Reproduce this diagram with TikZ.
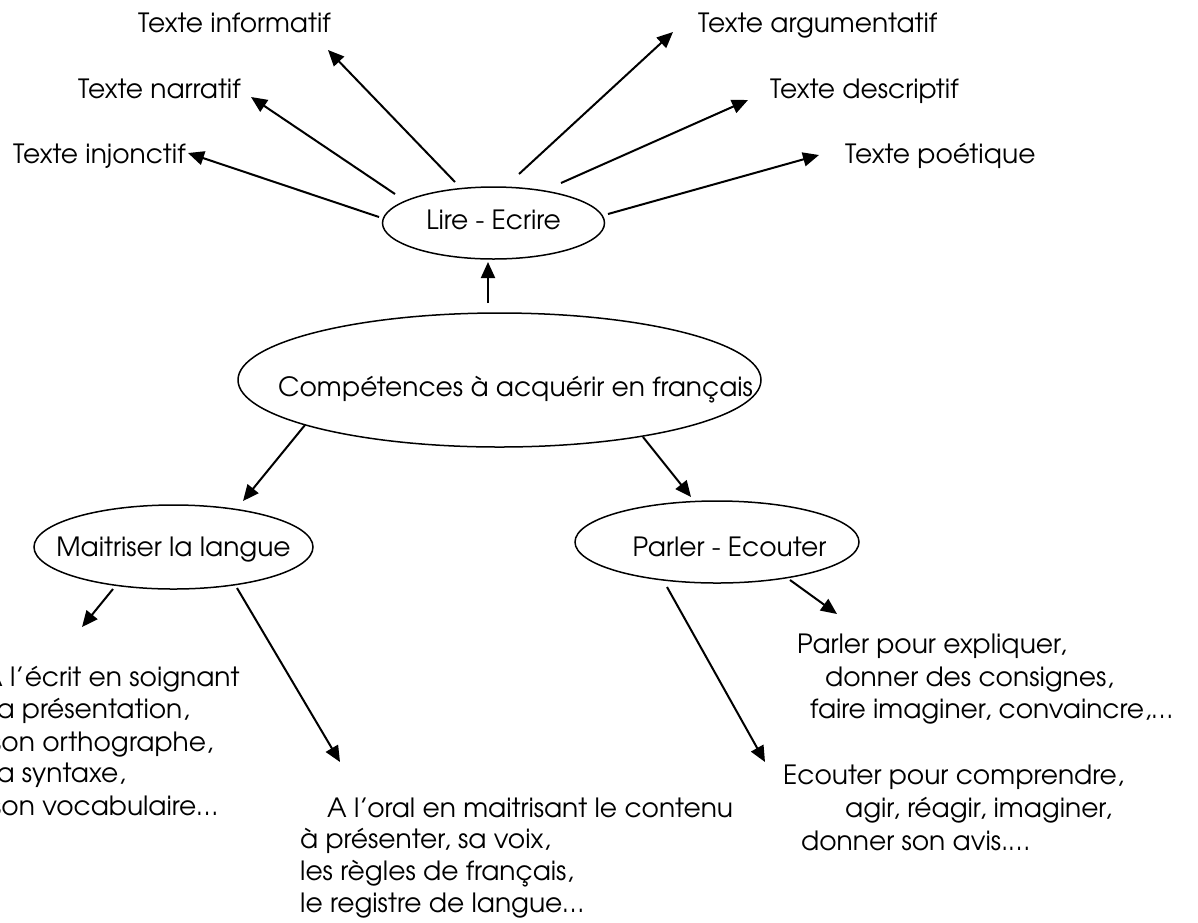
\documentclass[tikz,border=0pt]{standalone}
\usepackage{fontspec}
\setmainfont{texgyreadventor-regular.otf}
\usetikzlibrary{arrows.meta,shapes.geometric}
\tikzset{
  txt/.style={anchor=base west,inner sep=0pt,font=\fontsize{26.5pt}{32pt}\selectfont},
  oval/.style={draw,ellipse,line width=1.5pt,inner sep=0pt,text height=19pt,text depth=0pt,font=\fontsize{26.5pt}{32pt}\selectfont},
  arr/.style={line width=2pt,-{Triangle[length=16pt,width=14pt]}}
}
\begin{document}
\begin{tikzpicture}[x=1pt,y=-1pt]
\useasboundingbox (0,0) rectangle (1198,922);
\clip (0,0) rectangle (1198,922);
% ellipses
\node[oval,minimum width=222pt,minimum height=72pt] (lire) at (493.5,223) {\makebox[0pt]{\raisebox{3.5pt}{Lire - Ecrire}}};
\node[oval,minimum width=523pt,minimum height=134pt] (comp) at (499.5,380) {\makebox[0pt]{\hspace*{32pt}\raisebox{-7pt}{Compétences à acquérir en français}}};
\node[oval,minimum width=279pt,minimum height=84pt] (maitr) at (173.5,547) {\makebox[0pt]{Maitriser la langue}};
\node[oval,minimum width=284pt,minimum height=82pt] (parler) at (717,542) {\makebox[0pt]{\hspace*{25pt}\raisebox{-5pt}{Parler - Ecouter}}};
% top texts
\node[txt] (inform) at (138,32) {Texte informatif};
\node[txt] (narr) at (78,98) {Texte narratif};
\node[txt] (injon) at (13,163) {Texte injonctif};
\node[txt] (argu) at (698,32) {Texte argumentatif};
\node[txt] (descr) at (770,98) {Texte descriptif};
\node[txt] (poet) at (845,163) {Texte poétique};
% left bottom text
\node[txt] (ec1) at (-17,686) {A l’écrit en soignant};
\node[txt] (ec2) at (-9,718) {la présentation,};
\node[txt] (ec3) at (-9,751) {son orthographe,};
\node[txt] (ec4) at (-9,782) {la syntaxe,};
\node[txt] (ec5) at (-9,815) {son vocabulaire…};
% middle bottom text
\node[txt] (or1) at (327,817) {A l’oral en maitrisant le contenu};
\node[txt] (or2) at (300,848) {à présenter, sa voix,};
\node[txt] (or3) at (300,880) {les règles de français,};
\node[txt] (or4) at (300,912) {le registre de langue…};
% right texts
\node[txt] (pa1) at (797,653) {Parler pour expliquer,};
\node[txt] (pa2) at (825,686) {donner des consignes,};
\node[txt] (pa3) at (810,718) {faire imaginer, convaincre,…};
\node[txt] (eo1) at (783,784) {Ecouter pour comprendre,};
\node[txt] (eo2) at (845,817) {agir, réagir, imaginer,};
\node[txt] (eo3) at (801,850) {donner son avis.…};
% arrow end points
\coordinate (a1t) at (379,217); \coordinate (a1h) at (188,153);
\coordinate (a2t) at (395,194); \coordinate (a2h) at (251,97);
\coordinate (a3t) at (455,182); \coordinate (a3h) at (328,50);
\coordinate (a4t) at (519,174); \coordinate (a4h) at (673,32);
\coordinate (a5t) at (561,183); \coordinate (a5h) at (748,100);
\coordinate (a6t) at (608,214); \coordinate (a6h) at (819,155);
\coordinate (a7t) at (488,303); \coordinate (a7h) at (488,262);
\coordinate (a8t) at (305,425); \coordinate (a8h) at (243,501);
\coordinate (a9t) at (643,437); \coordinate (a9h) at (691,497);
\coordinate (a10t) at (113,589); \coordinate (a10h) at (82,627);
\coordinate (a11t) at (237,588); \coordinate (a11h) at (340,762);
\coordinate (a12t) at (667,587); \coordinate (a12h) at (765,762);
\coordinate (a13t) at (790,580); \coordinate (a13h) at (837,614);
\foreach \i in {1,...,13} { \draw[arr] (a\i t) -- (a\i h); }
\end{tikzpicture}
\end{document}
